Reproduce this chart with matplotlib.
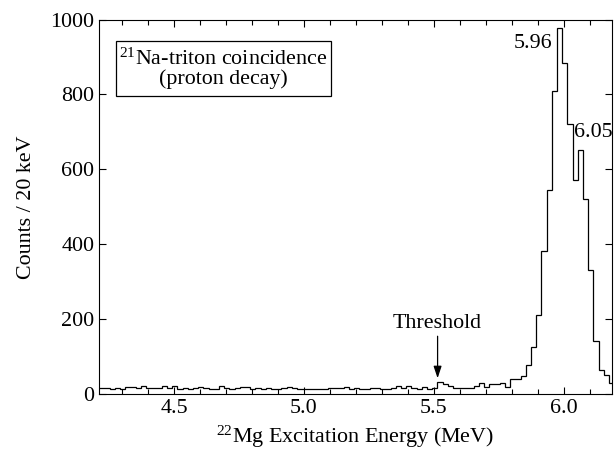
import numpy as np
import matplotlib
matplotlib.use("Agg")
import matplotlib.pyplot as plt
from matplotlib.patches import Rectangle

plt.rcParams['font.family'] = ['Liberation Serif', 'DejaVu Serif']
plt.rcParams['mathtext.fontset'] = 'custom'
plt.rcParams['mathtext.rm'] = 'Liberation Serif'
plt.rcParams['mathtext.it'] = 'Liberation Serif:italic'

# 20 keV bins (MeV)
bin_start = 4.193
bin_width = 0.02

counts = [
	15, 15, 17, 13, 17, 12, 18, 18, 15, 21,
	15, 17, 17, 22, 15, 20, 13, 17, 13, 17,
	18, 15, 14, 13, 21, 15, 13, 15, 19, 19,
	12, 15, 12, 15, 13, 13, 16, 18, 17, 14,
	14, 12, 12, 13, 13, 15, 16, 16, 18, 14,
	16, 12, 14, 15, 17, 13, 12, 15, 20, 17,
	22, 17, 13, 19, 13, 16, 32, 27, 20, 16,
	16, 16, 16, 20, 28, 18, 27, 27, 29, 19,
	39, 41, 47, 78, 125, 211, 382, 544, 808, 978,
	884, 720, 572, 652, 522, 332, 142, 65, 51, 30,
]
edges = bin_start + bin_width * np.arange(len(counts) + 1)

x_ticks = [4.5, 5.0, 5.5, 6.0]
y_ticks = [0, 200, 400, 600, 800, 1000]

fs = 15.8

fig = plt.figure(figsize=(6.16, 4.54), dpi=100)
ax = fig.add_axes([0.1607, 0.1322, 0.9927 - 0.1607, 0.957 - 0.1322])

ax.stairs(counts, edges, color='black', lw=0.9)

ax.set_xlim(4.2115, 6.183)
ax.set_ylim(0, 1000)
ax.set_xticks(x_ticks)
ax.set_xticklabels([f"{t:.1f}" for t in x_ticks])
ax.set_xticks(np.arange(4.3, 6.15, 0.1), minor=True)
ax.set_yticks(y_ticks)
ax.tick_params(which='both', direction='in', top=True, right=True, labelsize=fs)
ax.tick_params(which='major', length=5, width=0.8)
ax.tick_params(which='minor', length=3.5, width=0.8)
for s in ax.spines.values():
	s.set_linewidth(0.8)

ax.set_xlabel(r"$^{22}$Mg Excitation Energy (MeV)", fontsize=fs)
ax.set_ylabel("Counts / 20 keV", fontsize=fs, labelpad=10)

ax.text(5.957, 935, "5.96", fontsize=fs, ha='right', va='center')
ax.text(6.112, 698, "6.05", fontsize=fs, ha='center', va='center')

ax.annotate("Threshold", xy=(5.514, 42), xytext=(5.514, 187),
	ha='center', va='center', fontsize=fs,
	arrowprops=dict(arrowstyle='-|>,head_length=0.6,head_width=0.2', color='black',
		lw=0.9, shrinkA=0, shrinkB=0, mutation_scale=12))

# label box
ax.add_patch(Rectangle((4.2773, 797), 5.1027 - 4.2773, 942 - 797,
	fc='white', ec='black', lw=0.9, zorder=3))
ax.text(4.691, 868, "$^{21}$Na-triton coincidence\n(proton decay)", fontsize=fs,
	ha='center', va='center', linespacing=1.0, multialignment='center', zorder=4)

fig.savefig("out.png", dpi=100)
